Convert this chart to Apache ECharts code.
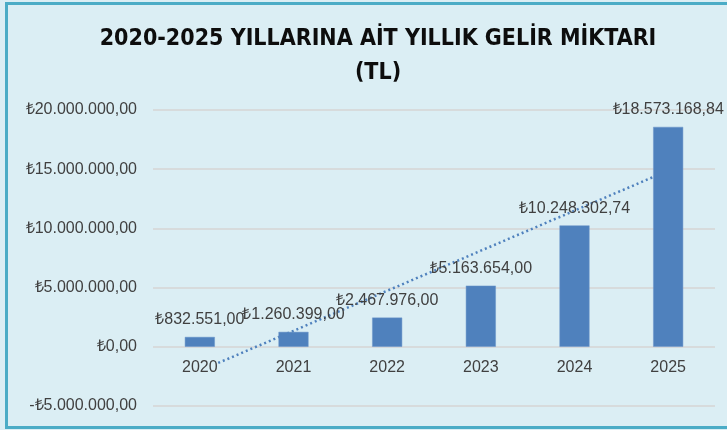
<!DOCTYPE html>
<html>
<head>
<meta charset="utf-8">
<script src="https://cdn.jsdelivr.net/npm/echarts@6/dist/echarts.min.js"></script>
<style>
  html, body { margin: 0; padding: 0; background: #f4f8f9; }
  #chart { width: 727px; height: 430px; }
</style>
</head>
<body>
<div id="chart"></div>
<script>
// Yearly income in Turkish lira
const years = ['2020', '2021', '2022', '2023', '2024', '2025'];
const income = [832551.00, 1260399.00, 2467976.00, 5163654.00, 10248302.74, 18573168.84];
const axisMin = -5000000;
const axisMax = 20000000;
const axisStep = 5000000;

// Turkish number format: ₺1.234.567,89
function formatTL(v) {
  const neg = v < 0;
  const parts = Math.abs(v).toFixed(2).split('.');
  const intPart = parts[0].replace(/\B(?=(\d{3})+(?!\d))/g, '.');
  return (neg ? '-' : '') + '\u20BA' + intPart + ',' + parts[1];
}

// Least-squares linear trend over the yearly values
function linearTrend(values) {
  const n = values.length;
  let sx = 0, sy = 0, sxx = 0, sxy = 0;
  values.forEach((y, i) => {
    const x = i + 1;
    sx += x; sy += y; sxx += x * x; sxy += x * y;
  });
  const slope = (n * sxy - sx * sy) / (n * sxx - sx * sx);
  const intercept = (sy - slope * sx) / n;
  return values.map((_, i) => intercept + slope * (i + 1));
}
const trend = linearTrend(income);

const BG = '#dbeef4';
const TEXT = '#404040';
const GRID_LINE = '#d6d4d4';
const FONT = '"Liberation Sans", Arial, sans-serif';

const GRID = { left: 153, right: 12, top: 110, bottom: 24 };
const plotHeight = 430 - GRID.top - GRID.bottom;
// Lift the category axis from the bottom edge up to the zero line
const zeroOffset = -plotHeight * (0 - axisMin) / (axisMax - axisMin);

const chart = echarts.init(document.getElementById('chart'));
chart.setOption({
  backgroundColor: BG,
  animation: false,
  title: {
    text: '2020-2025 YILLARINA AİT YILLIK GELİR MİKTARI\n(TL)',
    left: 373,
    top: 17,
    textAlign: 'center',
    textStyle: {
      fontFamily: '"DejaVu Sans Condensed", "Liberation Sans Narrow", sans-serif',
      fontWeight: 'bold',
      fontSize: 23,
      lineHeight: 34,
      color: '#0d0d0d'
    }
  },
  graphic: [{
    type: 'rect',
    silent: true,
    z: 100,
    shape: { x: 6.5, y: 3.5, width: 760, height: 424 },
    style: { fill: null, stroke: '#4bacc6', lineWidth: 3 }
  }],
  grid: Object.assign({ outerBoundsMode: 'none', containLabel: false }, GRID),
  xAxis: {
    type: 'category',
    data: years,
    z: 5,
    position: 'bottom',
    offset: zeroOffset,
    axisLine: { show: false },
    axisTick: { show: false },
    axisLabel: {
      margin: 13,
      fontFamily: FONT,
      fontSize: 16,
      color: TEXT,
      backgroundColor: BG
    }
  },
  yAxis: {
    type: 'value',
    min: axisMin,
    max: axisMax,
    interval: axisStep,
    axisLine: { show: false },
    axisTick: { show: false },
    splitLine: { lineStyle: { color: GRID_LINE, width: 1.5 } },
    axisLabel: {
      margin: 16,
      fontFamily: FONT,
      fontSize: 16,
      color: TEXT,
      formatter: formatTL
    }
  },
  series: [
    {
      name: 'Gelir',
      type: 'bar',
      data: income,
      barWidth: 30,
      z: 3,
      itemStyle: { color: '#4f81bd', borderColor: '#6a95c8', borderWidth: 0.5 },
      label: {
        show: true,
        position: 'top',
        distance: 9,
        fontFamily: FONT,
        fontSize: 16,
        color: TEXT,
        formatter: p => formatTL(p.value)
      }
    },
    {
      name: 'Doğrusal (Gelir)',
      type: 'line',
      data: trend,
      z: 1,
      symbol: 'none',
      lineStyle: { color: '#4f81bd', width: 2.5, type: [2, 3] }
    }
  ]
});
</script>
</body>
</html>
